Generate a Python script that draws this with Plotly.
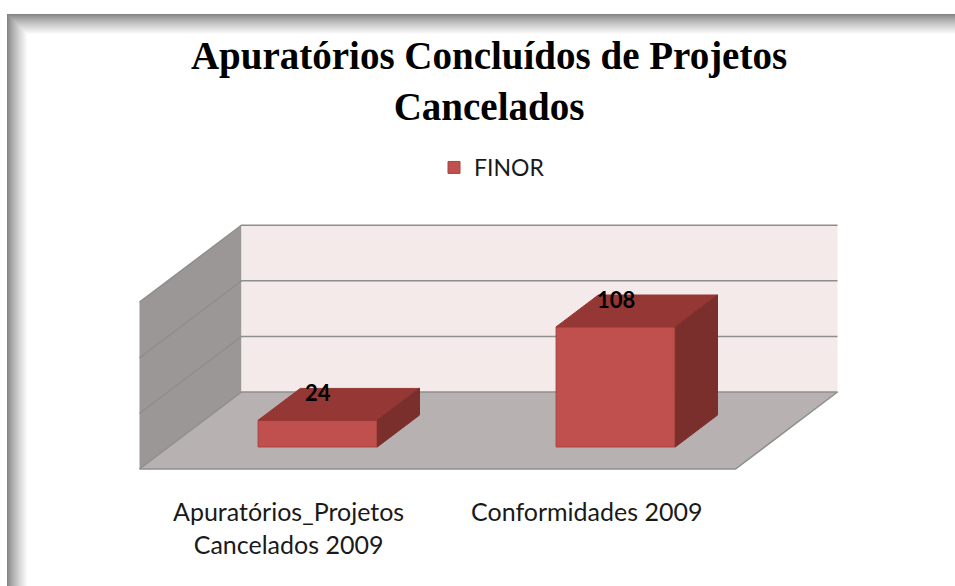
import plotly.graph_objects as go

# ---------------- data ----------------
categories = ["Apuratórios_Projetos<br>Cancelados 2009", "Conformidades 2009"]
values = [24, 108]
series_name = "FINOR"
y_ticks = [0, 50, 100, 150]
title_text = "Apuratórios Concluídos de Projetos<br>Cancelados"

# ---------------- geometry (oblique 3-D projection) ----------------
W, H = 955, 586
PX_PER_CAT = 298.0
CAT0_PX = 288.5
PX_PER_VAL = 1.112
BASE_PX = 469.0
DEPTH_DX = 102.0 / PX_PER_CAT     # depth offset in category units
DEPTH_DY = 77.0 / PX_PER_VAL      # depth offset in value units
BAR_W = 0.4
D0, D1 = 0.286, 0.70              # bar front / back depth

C_FRONT = "#C0504D"
C_TOP = "#953735"
C_SIDE = "#7B2F2D"
C_BACK = "#F5EAEA"
C_LEFT = "#9C9797"
C_FLOOR = "#B8B1B1"
C_GRID = "#8E8E8E"


def P(x, y, d):
    return x + d * DEPTH_DX, y + d * DEPTH_DY


def line_path(points, close=False):
    s = "M " + " L ".join(f"{x:.5f},{y:.5f}" for x, y in points)
    return s + (" Z" if close else "")


xmin, xmax = -0.5, len(categories) - 0.5
ymax = y_ticks[-1]

shapes = []
# walls & floor
shapes.append(dict(type="path", xref="x", yref="y", layer="below",
                   path=line_path([P(xmin, 0, 0), P(xmin, ymax, 0), P(xmin, ymax, 1), P(xmin, 0, 1)], True),
                   fillcolor=C_LEFT, line=dict(width=0)))
shapes.append(dict(type="path", xref="x", yref="y", layer="below",
                   path=line_path([P(xmin, 0, 1), P(xmax, 0, 1), P(xmax, ymax, 1), P(xmin, ymax, 1)], True),
                   fillcolor=C_BACK, line=dict(width=0)))
shapes.append(dict(type="path", xref="x", yref="y", layer="below",
                   path=line_path([P(xmin, 0, 0), P(xmax, 0, 0), P(xmax, 0, 1), P(xmin, 0, 1)], True),
                   fillcolor=C_FLOOR, line=dict(width=0)))
# gridlines (left wall + back wall)
for t in y_ticks:
    shapes.append(dict(type="path", xref="x", yref="y", layer="below",
                       path=line_path([P(xmin, t, 0), P(xmin, t, 1), P(xmax, t, 1)]),
                       line=dict(color=C_GRID, width=1.5)))
# floor front & right edges
shapes.append(dict(type="path", xref="x", yref="y", layer="below",
                   path=line_path([P(xmin, 0, 0), P(xmax, 0, 0), P(xmax, 0, 1)]),
                   line=dict(color=C_GRID, width=1.5)))

# border shadow (top & left)
for i in range(21):
    g = int(0x84 + (0xFF - 0x84) * (i / 20.0) ** 0.8)
    col = f"rgb({g},{g},{g})"
    shapes.append(dict(type="rect", xref="paper", yref="paper", layer="below",
                       x0=(7 + i) / W, x1=(8 + i) / W, y0=0, y1=1 - (14 + i) / H,
                       fillcolor=col, line=dict(width=0)))
    shapes.append(dict(type="rect", xref="paper", yref="paper", layer="below",
                       x0=(7 + i) / W, x1=1, y0=1 - (15 + i) / H, y1=1 - (14 + i) / H,
                       fillcolor=col, line=dict(width=0)))

fig = go.Figure()

# bar front faces
fig.add_trace(go.Bar(
    x=[i + D0 * DEPTH_DX for i in range(len(values))],
    y=values,
    base=D0 * DEPTH_DY,
    width=BAR_W,
    name=series_name,
    marker=dict(color=C_FRONT, line=dict(color="#A8433F", width=1)),
    hoverinfo="skip",
    showlegend=True,
))

# bar top and side faces
for i, v in enumerate(values):
    xl, xr = i - BAR_W / 2, i + BAR_W / 2
    top = [P(xl, v, D0), P(xr, v, D0), P(xr, v, D1), P(xl, v, D1), P(xl, v, D0)]
    side = [P(xr, 0, D0), P(xr, v, D0), P(xr, v, D1), P(xr, 0, D1), P(xr, 0, D0)]
    for pts, col in ((top, C_TOP), (side, C_SIDE)):
        fig.add_trace(go.Scatter(
            x=[p[0] for p in pts], y=[p[1] for p in pts],
            mode="lines", fill="toself", fillcolor=col,
            line=dict(color=col, width=1), hoverinfo="skip", showlegend=False))

annotations = []
# data labels
for i, v in enumerate(values):
    x, y = P(i, v, D1)
    annotations.append(dict(x=i + D0 * DEPTH_DX, y=y, xref="x", yref="y",
                            text=f"<b>{v}</b>", showarrow=False, yanchor="middle", yshift=-4,
                            font=dict(family="Lato", size=22, color="#000000")))
# category labels
for i, c in enumerate(categories):
    annotations.append(dict(x=i, y=(BASE_PX - 494) / PX_PER_VAL, xref="x", yref="y",
                            text=c, showarrow=False, yanchor="top", align="center",
                            font=dict(family="Lato", size=25, color="#1a1a1a")))

fig.update_layout(
    width=W, height=H,
    margin=dict(l=0, r=0, t=0, b=0),
    paper_bgcolor="white", plot_bgcolor="white",
    title=dict(text=title_text, x=489 / W, xanchor="center", y=1 - 69 / H, yanchor="middle",
               font=dict(family="Liberation Serif", size=39, color="#000000", weight="bold")),
    xaxis=dict(range=[(0 - CAT0_PX) / PX_PER_CAT, (W - CAT0_PX) / PX_PER_CAT], visible=False, fixedrange=True),
    yaxis=dict(range=[(BASE_PX - H) / PX_PER_VAL, BASE_PX / PX_PER_VAL], visible=False, fixedrange=True),
    legend=dict(x=434 / W, xanchor="left", y=1 - 146 / H, yanchor="top", orientation="h",
                font=dict(family="Lato", size=23, color="#1a1a1a"), bgcolor="rgba(0,0,0,0)"),
    shapes=shapes,
    annotations=annotations,
    showlegend=True,
)

fig.write_html("out.html", config={"displayModeBar": False},
               post_script="document.body.style.margin='0px';")
